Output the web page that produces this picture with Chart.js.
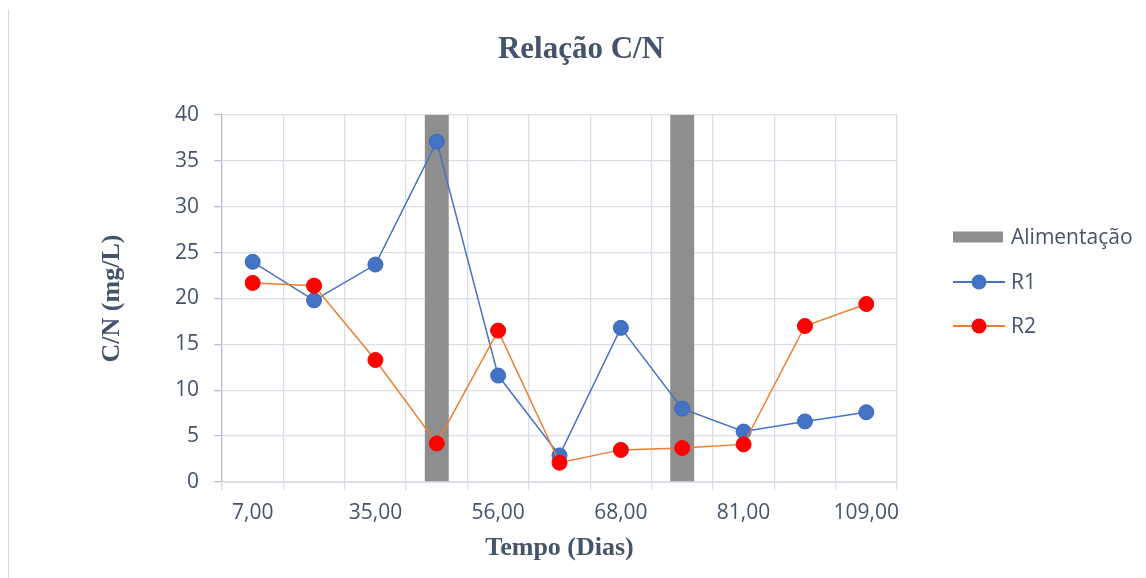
<!DOCTYPE html>
<html>
<head>
<meta charset="utf-8">
<script src="https://cdn.jsdelivr.net/npm/chart.js@4"></script>
<style>
html,body{margin:0;padding:0;background:#fff;}
#wrap{width:1146px;height:578px;position:relative;}
</style>
</head>
<body>
<div id="wrap"><canvas id="c" width="1146" height="578"></canvas></div>
<script>
const categories = ["7,00","21,00","35,00","49,00","56,00","63,00","68,00","75,00","81,00","95,00","109,00"];
const shownLabels = [true,false,true,false,true,false,true,false,true,false,true];
const alimentacao = [null,null,null,40,null,null,null,40,null,null,null];
const r1 = [24.0,19.8,23.7,37.1,11.6,2.9,16.8,8.0,5.5,6.6,7.6];
const r2 = [21.7,21.4,13.3,4.2,16.5,2.1,3.5,3.7,4.1,17.0,19.4];
const yTicks = {min:0,max:40,step:5};
const chartTitle = 'Relação C/N';

const TXT = '#44546a';
const GRID = '#d9dee7';
const SANS = '"Open Sans", "Noto Sans", sans-serif';
const SERIF = '"Liberation Serif", "Times New Roman", serif';

const framePlugin = {
  id:'frame',
  beforeDraw(chart){
    const ctx = chart.ctx;
    ctx.save();
    ctx.fillStyle = '#fff';
    ctx.fillRect(0,0,chart.width,chart.height);
    ctx.strokeStyle = '#d9d9d9';
    ctx.lineWidth = 1;
    ctx.beginPath();
    ctx.moveTo(8.5,10);
    ctx.lineTo(8.5,chart.height);
    ctx.stroke();
    ctx.restore();
  },
  afterDraw(chart){
    const ctx = chart.ctx;
    ctx.save();
    ctx.font = 'bold 31px ' + SERIF;
    ctx.fillStyle = TXT;
    ctx.textAlign = 'center';
    ctx.textBaseline = 'middle';
    ctx.fillText(chartTitle, 581, 50);
    ctx.restore();
  }
};

const legendPlugin = {
  id:'customLegend',
  afterDraw(chart){
    const ctx = chart.ctx;
    const x0 = 953, rows = [237,282,326];
    ctx.save();
    ctx.font = '21px ' + SANS;
    ctx.textBaseline = 'middle';
    chart.data.datasets.forEach((ds,i)=>{
      const y = rows[i];
      if (ds.type === 'bar'){
        ctx.fillStyle = ds.backgroundColor;
        ctx.fillRect(x0, y-5.5, 50, 11);
      } else {
        ctx.strokeStyle = ds.borderColor;
        ctx.lineWidth = 2;
        ctx.beginPath();
        ctx.moveTo(x0,y); ctx.lineTo(x0+52,y); ctx.stroke();
        ctx.fillStyle = ds.pointBackgroundColor;
        ctx.beginPath();
        ctx.arc(x0+26,y,7.5,0,Math.PI*2);
        ctx.fill();
      }
      ctx.fillStyle = TXT;
      ctx.fillText(ds.label, 1011, y+1);
    });
    ctx.restore();
  }
};

new Chart(document.getElementById('c'), {
  type:'bar',
  data:{
    labels: categories,
    datasets:[
      {type:'bar', label:'Alimentação', data:alimentacao, backgroundColor:'#8e8e8e',
       barPercentage:0.39, categoryPercentage:1.0, order:2},
      {type:'line', label:'R1', data:r1, borderColor:'#4472c4', borderWidth:1.5,
       pointBackgroundColor:'#4472c4', pointBorderColor:'#3b68b8', pointBorderWidth:1,
       pointRadius:7.5, pointHoverRadius:7.5, tension:0, order:1},
      {type:'line', label:'R2', data:r2, borderColor:'#ed7d31', borderWidth:1.5,
       pointBackgroundColor:'#ff0000', pointBorderColor:'#ff0000', pointBorderWidth:1,
       pointRadius:7.5, pointHoverRadius:7.5, tension:0, order:0}
    ]
  },
  options:{
    responsive:false,
    animation:false,
    layout:{padding:{left:0,right:249,top:115,bottom:0}},
    plugins:{
      legend:{display:false},
      tooltip:{enabled:false},
      title:{display:false}
    },
    scales:{
      x:{
        offset:true,
        grid:{offset:true, color:GRID, tickColor:GRID, tickLength:8, lineWidth:1.3},
        border:{color:GRID},
        ticks:{color:TXT, font:{family:SANS, size:21}, padding:10, autoSkip:false, maxRotation:0,
          callback:function(v,i){ return shownLabels[i] ? categories[i] : ''; }},
        title:{display:true, text:'Tempo (Dias)', color:TXT,
          font:{family:SERIF, size:26, weight:'bold'}, padding:{top:0,bottom:14}},
        afterFit(scale){ scale.height = 96; }
      },
      y:{
        min:yTicks.min, max:yTicks.max,
        grid:{color:GRID, tickColor:'#b8c1cf', tickLength:8, lineWidth:1.3},
        border:{color:'#b8c1cf', width:1.3},
        ticks:{stepSize:yTicks.step, color:TXT, font:{family:SANS, size:21}, padding:15},
        title:{display:true, text:'C/N (mg/L)', color:TXT,
          font:{family:SERIF, size:26, weight:'bold'}, padding:{top:97,bottom:0}},
        afterFit(scale){ scale.width = 222; }
      }
    }
  },
  plugins:[framePlugin, legendPlugin]
});
</script>
</body>
</html>
